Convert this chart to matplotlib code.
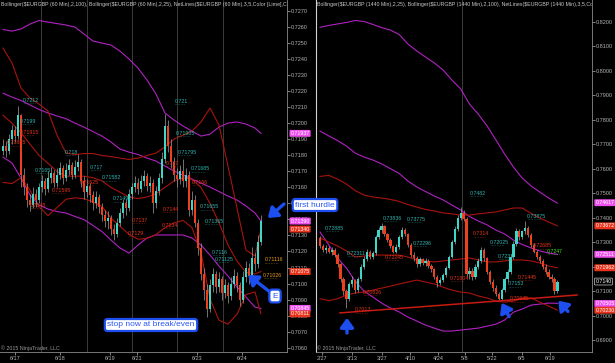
import numpy as np
import matplotlib
matplotlib.use("Agg")
import matplotlib.pyplot as plt

plt.rcParams['font.family'] = ['Liberation Sans', 'DejaVu Sans']

# ---- 60 min EURGBP (left panel) ----
h1_first_open = 0.7183
h1_close = [0.7186, 0.7183, 0.7190, 0.7196, 0.7192, 0.7205, 0.7168, 0.7160, 0.7152, 0.7149,
            0.7156, 0.7152, 0.7160, 0.7164, 0.7159, 0.7166, 0.7169, 0.7163, 0.7168, 0.7172,
            0.7166, 0.7171, 0.7174, 0.7168, 0.7173, 0.7176, 0.7164, 0.7157, 0.7161, 0.7155,
            0.7150, 0.7154, 0.7148, 0.7143, 0.7139, 0.7141, 0.7134, 0.7131, 0.7138, 0.7144,
            0.7150, 0.7147, 0.7156, 0.7160, 0.7163, 0.7159, 0.7164, 0.7167, 0.7161, 0.7163,
            0.7150, 0.7158, 0.7166, 0.7178, 0.7198, 0.7186, 0.7176, 0.7168, 0.7165, 0.7170,
            0.7164, 0.7168, 0.7146, 0.7152, 0.7138, 0.7122, 0.7106, 0.7096, 0.7084, 0.7099,
            0.7106, 0.7098, 0.7103, 0.7094, 0.7099, 0.7092, 0.7100, 0.7105, 0.7099, 0.7090,
            0.7104, 0.7110, 0.7105, 0.7116, 0.7112, 0.7126, 0.7139]
h1_high = [0.7190, 0.7189, 0.7193, 0.7199, 0.7198, 0.7211, 0.7206, 0.7172, 0.7163, 0.7156,
           0.7160, 0.7159, 0.7163, 0.7168, 0.7166, 0.7170, 0.7173, 0.7171, 0.7172, 0.7176,
           0.7174, 0.7175, 0.7178, 0.7176, 0.7177, 0.7181, 0.7178, 0.7167, 0.7165, 0.7163,
           0.7158, 0.7158, 0.7156, 0.7150, 0.7146, 0.7145, 0.7143, 0.7137, 0.7141, 0.7147,
           0.7153, 0.7153, 0.7159, 0.7163, 0.7167, 0.7166, 0.7168, 0.7171, 0.7169, 0.7167,
           0.7165, 0.7161, 0.7169, 0.7182, 0.7206, 0.7202, 0.7190, 0.7179, 0.7172, 0.7174,
           0.7178, 0.7172, 0.7170, 0.7158, 0.7155, 0.7140, 0.7125, 0.7110, 0.7100, 0.7103,
           0.7110, 0.7108, 0.7107, 0.7105, 0.7103, 0.7101, 0.7104, 0.7109, 0.7107, 0.7101,
           0.7108, 0.7114, 0.7113, 0.7123, 0.7119, 0.7130, 0.7143]
h1_low = [0.7180, 0.7179, 0.7181, 0.7187, 0.7188, 0.7190, 0.7160, 0.7155, 0.7148, 0.7145,
          0.7147, 0.7148, 0.7150, 0.7157, 0.7155, 0.7157, 0.7163, 0.7160, 0.7160, 0.7165,
          0.7162, 0.7164, 0.7168, 0.7165, 0.7166, 0.7170, 0.7160, 0.7153, 0.7154, 0.7151,
          0.7146, 0.7147, 0.7144, 0.7139, 0.7135, 0.7134, 0.7130, 0.7127, 0.7129, 0.7136,
          0.7141, 0.7143, 0.7145, 0.7153, 0.7157, 0.7156, 0.7157, 0.7161, 0.7158, 0.7157,
          0.7144, 0.7147, 0.7155, 0.7163, 0.7175, 0.7182, 0.7172, 0.7164, 0.7160, 0.7162,
          0.7160, 0.7160, 0.7142, 0.7143, 0.7135, 0.7118, 0.7102, 0.7090, 0.7079, 0.7082,
          0.7095, 0.7094, 0.7095, 0.7090, 0.7091, 0.7088, 0.7090, 0.7097, 0.7095, 0.7086,
          0.7088, 0.7101, 0.7100, 0.7103, 0.7108, 0.7110, 0.7124]

# bollinger values read every 3rd bar (last one at the final bar)
h1_band_bars = list(range(0, 85, 3)) + [86]
h1_bb100_up = [0.72585, 0.72575, 0.72588, 0.72619, 0.72641, 0.72631, 0.72622, 0.72613, 0.72600, 0.72557,
               0.72513, 0.72500, 0.72488, 0.72450, 0.72401, 0.72344, 0.72270, 0.72182, 0.72064, 0.72020,
               0.71983, 0.71951, 0.71920, 0.71932, 0.71976, 0.72001, 0.72008, 0.71995, 0.71970, 0.71937]
h1_bb100_mid = [0.72188, 0.72163, 0.72142, 0.72114, 0.72086, 0.72064, 0.72045, 0.72029, 0.72001, 0.71976,
                0.71948, 0.71920, 0.71883, 0.71839, 0.71820, 0.71805, 0.71783, 0.71764, 0.71733, 0.71702,
                0.71677, 0.71652, 0.71627, 0.71602, 0.71574, 0.71546, 0.71521, 0.71484, 0.71440, 0.71390]
h1_bb100_low = [0.71789, 0.71752, 0.71658, 0.71552, 0.71490, 0.71465, 0.71449, 0.71440, 0.71418, 0.71399,
                0.71362, 0.71324, 0.71271, 0.71222, 0.71190, 0.71240, 0.71284, 0.71303, 0.71303, 0.71303,
                0.71303, 0.71284, 0.71240, 0.71178, 0.71109, 0.71047, 0.70978, 0.70916, 0.70853, 0.70845]
h1_bb25_up = [0.72469, 0.72376, 0.72220, 0.72157, 0.72120, 0.72076, 0.71926, 0.71814, 0.71805, 0.71811,
              0.71811, 0.71799, 0.71792, 0.71783, 0.71774, 0.71783, 0.71799, 0.71814, 0.71852, 0.71901,
              0.71926, 0.71951, 0.72008, 0.72095, 0.71989, 0.71733, 0.71471, 0.71209, 0.71172, 0.71340]
h1_bb25_mid = [0.7205, 0.7200, 0.7194, 0.7187, 0.7180, 0.7175, 0.7170, 0.7167, 0.7167, 0.7167,
               0.7166, 0.7164, 0.7160, 0.7157, 0.7154, 0.7153, 0.7154, 0.7156, 0.7160, 0.7164,
               0.7166, 0.7165, 0.7160, 0.7150, 0.7138, 0.7124, 0.7114, 0.7107, 0.7106, 0.71075]
h1_bb25_low = [0.71631, 0.71624, 0.71660, 0.71583, 0.71480, 0.71424, 0.71474, 0.71526, 0.71535, 0.71529,
               0.71509, 0.71481, 0.71408, 0.71357, 0.71306, 0.71277, 0.71281, 0.71306, 0.71348, 0.71379,
               0.71394, 0.71349, 0.71192, 0.70905, 0.70771, 0.70747, 0.70809, 0.70931, 0.70948, 0.70811]

h1_day_bars = [4, 19, 35.7, 44.7, 64.7, 79.7]
h1_day_labels = ['6/17', '6/18', '6/19', '6/21', '6/23', '6/24']
h1_session_bars = [12.7, 28, 43, 58, 73.3]

h1_levels = [  # bar, price, text, colour
    (6.7, 0.72145, '0.7212', 'teal'), (5.7, 0.72014, '0.7199', 'teal'),
    (5.7, 0.71945, '0.71915', 'red'), (1.3, 0.71877, '0.71885', 'red'),
    (20.7, 0.71820, '0.718', 'teal'), (29.0, 0.71727, '0.717', 'teal'),
    (10.7, 0.71708, '0.7165', 'teal'), (9.0, 0.71490, '0.7148', 'red'),
    (16.3, 0.71583, '0.71595', 'red'), (25.7, 0.71630, '0.71625', 'red'),
    (33.0, 0.71660, '0.71582', 'teal'), (36.7, 0.71530, '0.71492', 'teal'),
    (43.0, 0.71396, '0.7137', 'red'), (41.7, 0.71312, '0.7129', 'red'),
    (57.3, 0.72136, '0.721', 'teal'), (57.7, 0.71939, '0.71905', 'teal'),
    (58.3, 0.71820, '0.71795', 'teal'), (62.7, 0.71715, '0.71685', 'teal'),
    (54.3, 0.71752, '0.717', 'red'), (63.0, 0.71630, '0.7166', 'red'),
    (53.3, 0.71465, '0.7144', 'red'), (53.0, 0.71365, '0.7134', 'red'),
    (65.7, 0.71478, '0.71655', 'teal'), (67.3, 0.71390, '0.71365', 'teal'),
    (69.7, 0.71195, '0.7116', 'teal'), (70.7, 0.71150, '0.71125', 'teal'),
    (87.3, 0.71147, '0.71116', 'orange'), (86.7, 0.71053, '0.71026', 'orange'),
]
h1_tags = [(0.71937, '0.71937', 'magenta'), (0.71390, '0.71390', 'magenta'),
           (0.71340, '0.71340', 'red'), (0.71075, '0.71075', 'red'),
           (0.70845, '0.70845', 'magenta'), (0.70811, '0.70811', 'red')]

# ---- daily EURGBP (right panel) ----
d1_first_open = 0.7318
d1_close = [0.7285, 0.7270, 0.7275, 0.7262, 0.7268, 0.7250, 0.7210, 0.7150, 0.7100, 0.7068,
            0.7130, 0.7145, 0.7105, 0.7150, 0.7200, 0.7232, 0.7260, 0.7240, 0.7258, 0.7320,
            0.7350, 0.7365, 0.7335, 0.7310, 0.7285, 0.7262, 0.7280, 0.7320, 0.7352, 0.7335,
            0.7290, 0.7250, 0.7238, 0.7210, 0.7230, 0.7215, 0.7225, 0.7205, 0.7190, 0.7160,
            0.7135, 0.7148, 0.7165, 0.7195, 0.7240, 0.7300, 0.7355, 0.7398, 0.7420, 0.7395,
            0.7170, 0.7185, 0.7160, 0.7200, 0.7222, 0.7268, 0.7235, 0.7180, 0.7140, 0.7115,
            0.7090, 0.7070, 0.7105, 0.7150, 0.7180, 0.7240, 0.7295, 0.7348, 0.7320, 0.7345,
            0.7360, 0.7330, 0.7290, 0.7262, 0.7240, 0.7225, 0.7200, 0.7180, 0.7160, 0.7150,
            0.7100, 0.7140]
d1_high = [0.7325, 0.7295, 0.7288, 0.7284, 0.7280, 0.7275, 0.7256, 0.7215, 0.7158, 0.7110,
           0.7140, 0.7162, 0.7150, 0.7160, 0.7212, 0.7245, 0.7272, 0.7268, 0.7266, 0.7328,
           0.7362, 0.7378, 0.7370, 0.7340, 0.7318, 0.7290, 0.7292, 0.7330, 0.7362, 0.7358,
           0.7340, 0.7296, 0.7260, 0.7245, 0.7242, 0.7238, 0.7235, 0.7232, 0.7212, 0.7196,
           0.7168, 0.7158, 0.7175, 0.7205, 0.7250, 0.7310, 0.7365, 0.7410, 0.7445, 0.7430,
           0.7402, 0.7198, 0.7195, 0.7210, 0.7235, 0.7280, 0.7275, 0.7242, 0.7188, 0.7150,
           0.7125, 0.7098, 0.7115, 0.7160, 0.7192, 0.7252, 0.7305, 0.7358, 0.7355, 0.7352,
           0.7385, 0.7368, 0.7338, 0.7298, 0.7270, 0.7248, 0.7232, 0.7210, 0.7192, 0.7170,
           0.7158, 0.7148]
d1_low = [0.7278, 0.7262, 0.7258, 0.7255, 0.7250, 0.7240, 0.7200, 0.7140, 0.7085, 0.7030,
          0.7060, 0.7118, 0.7095, 0.7098, 0.7142, 0.7190, 0.7225, 0.7230, 0.7232, 0.7250,
          0.7312, 0.7340, 0.7325, 0.7300, 0.7275, 0.7255, 0.7258, 0.7272, 0.7312, 0.7325,
          0.7282, 0.7240, 0.7225, 0.7200, 0.7205, 0.7208, 0.7205, 0.7196, 0.7180, 0.7150,
          0.7118, 0.7125, 0.7140, 0.7158, 0.7190, 0.7235, 0.7292, 0.7348, 0.7390, 0.7385,
          0.7160, 0.7150, 0.7145, 0.7152, 0.7190, 0.7215, 0.7225, 0.7170, 0.7130, 0.7100,
          0.7080, 0.7063, 0.7066, 0.7098, 0.7140, 0.7172, 0.7232, 0.7285, 0.7310, 0.7312,
          0.7335, 0.7322, 0.7280, 0.7255, 0.7232, 0.7215, 0.7190, 0.7172, 0.7150, 0.7140,
          0.7090, 0.7092]

d1_band_bars = list(range(0, 82, 3))
d1_bb100_up = [0.8177, 0.8185, 0.8191, 0.8197, 0.8205, 0.8201, 0.8189, 0.8176, 0.8166, 0.8148,
               0.8109, 0.8081, 0.8056, 0.8032, 0.8003, 0.7962, 0.7926, 0.7864, 0.7823, 0.7775,
               0.7718, 0.7660, 0.7607, 0.7562, 0.7530, 0.7505, 0.7481, 0.7460]
d1_bb100_mid = [0.7754, 0.7734, 0.7715, 0.7693, 0.7664, 0.7648, 0.7636, 0.7620, 0.7601, 0.7581,
                0.7550, 0.7526, 0.7507, 0.7489, 0.7473, 0.7452, 0.7432, 0.7405, 0.7387, 0.7371,
                0.7350, 0.7334, 0.7309, 0.7291, 0.7277, 0.7265, 0.7256, 0.7251]
d1_bb100_low = [0.7342, 0.7289, 0.7236, 0.7195, 0.7142, 0.7101, 0.7077, 0.7052, 0.7032, 0.7016,
                0.6995, 0.6979, 0.6962, 0.6950, 0.6938, 0.6938, 0.6942, 0.6946, 0.6950, 0.6958,
                0.6966, 0.6983, 0.7015, 0.7028, 0.7044, 0.7048, 0.7052, 0.7051]
d1_bb25_up = [0.7569, 0.7573, 0.7558, 0.7538, 0.7511, 0.7493, 0.7485, 0.7481, 0.7475, 0.7467,
              0.7454, 0.7444, 0.7434, 0.7428, 0.7420, 0.7416, 0.7411, 0.7411, 0.7416, 0.7420,
              0.7424, 0.7432, 0.7440, 0.7440, 0.7418, 0.7399, 0.7383, 0.7367]
d1_bb25_mid = [0.7318, 0.7301, 0.7285, 0.7265, 0.7240, 0.7244, 0.7248, 0.7248, 0.7248, 0.7248,
               0.7240, 0.7228, 0.7224, 0.7220, 0.7224, 0.7228, 0.7232, 0.7236, 0.7228, 0.7220,
               0.7220, 0.7224, 0.7228, 0.7228, 0.7224, 0.7216, 0.7203, 0.7196]
d1_bb25_low = [0.7070, 0.7062, 0.7070, 0.7085, 0.7093, 0.7097, 0.7105, 0.7113, 0.7121, 0.7130,
               0.7138, 0.7146, 0.7138, 0.7130, 0.7117, 0.7105, 0.7097, 0.7093, 0.7081, 0.7073,
               0.7060, 0.7056, 0.7060, 0.7073, 0.7073, 0.7056, 0.7040, 0.7023]

d1_trend_bars = [6.8, 87.7]
d1_trend_price = [0.7012, 0.7085]

d1_date_bars = [0.7, 10.9, 21.2, 30.7, 40.3, 49.5, 58.7, 68.9, 78.5]
d1_date_labels = ['2/27', '3/13', '3/27', '4/10', '4/24', '5/8', '5/22', '6/5', '6/19']
d1_session_bars = [48.5]

d1_levels = [
    (51.2, 0.7500, '0.7482', 'teal'), (21.5, 0.7399, '0.73836', 'teal'),
    (29.7, 0.7395, '0.73775', 'teal'), (70.6, 0.7407, '0.73875', 'teal'),
    (52.2, 0.7334, '0.7314', 'red'), (1.7, 0.7358, '0.72885', 'teal'),
    (58.0, 0.7301, '0.72025', 'teal'), (72.7, 0.7285, '0.72685', 'red'),
    (77.5, 0.7264, '0.7247', 'lime'), (60.8, 0.7244, '0.7231', 'teal'),
    (67.6, 0.7158, '0.71445', 'red'), (14.7, 0.7097, '0.70826', 'red'),
    (12.0, 0.7024, '0.7013', 'red'), (64.2, 0.7130, '0.7153', 'teal'),
    (31.7, 0.7296, '0.72296', 'teal'), (44.4, 0.7153, '0.71804', 'red'),
    (9.2, 0.7255, '0.72311', 'teal'), (64.8, 0.7069, '0.70645', 'red'),
    (22.2, 0.7240, '0.72245', 'red'),
]
d1_tags = [(0.74617, '0.74617', 'magenta'), (0.73672, '0.73672', 'red'),
           (0.72511, '0.72511', 'magenta'), (0.71962, '0.71962', 'red'),
           (0.7140, '0.7140', 'black'), (0.70505, '0.70505', 'magenta'),
           (0.70230, '0.70230', 'red')]

COL = {'teal': '#2fb3b0', 'red': '#e8341c', 'orange': '#e89a1c', 'lime': '#3ee81c',
       'magenta': '#f050f0', 'black': 'black'}
UP = '#3fd6c8'
DOWN = '#ee3f1f'
WICK = '#a0a0a0'
PURPLE = '#b022c2'
DARKRED = '#a8140e'
BLUE = '#1d4ff0'


def draw_candles(ax, first_open, close, high, low, width):
    c = np.array(close)
    o = np.array([first_open] + close[:-1])
    x = np.arange(len(c))
    ax.vlines(x, low, high, color=WICK, lw=0.5, zorder=3)
    up = c >= o
    body = np.maximum(np.abs(c - o), 0.00002)
    ax.bar(x[up], body[up], width, bottom=np.minimum(o, c)[up], color=UP, lw=0, zorder=4)
    ax.bar(x[~up], body[~up], width, bottom=np.minimum(o, c)[~up], color=DOWN, lw=0, zorder=4)


def style_axis(ax, ylim, step, title):
    ax.set_facecolor('black')
    ax.set_ylim(*ylim)
    ax.yaxis.tick_right()
    ticks = np.arange(np.ceil(ylim[0] / step) * step, ylim[1], step)
    ax.set_yticks(ticks)
    ax.set_yticklabels(['%.4f' % t for t in ticks])
    ax.tick_params(axis='both', colors='#b4b4b4', labelsize=4, length=2, width=0.5, pad=1)
    for s in ('top', 'left'):
        ax.spines[s].set_visible(False)
    for s in ('right', 'bottom'):
        ax.spines[s].set_color('#8a8a8a')
        ax.spines[s].set_linewidth(0.6)
    ax.text(0.004, 0.995, title, transform=ax.transAxes, fontsize=3.8, color='#c8c8c8',
            va='top', ha='left', clip_on=True)
    ax.text(0.004, 0.004, '\u00a9 2015 NinjaTrader, LLC', transform=ax.transAxes, fontsize=3.8,
            color='#9a9a9a', va='bottom', ha='left')


def draw_levels(ax, levels):
    for bx, p, txt, c in levels:
        ax.annotate(txt, (bx, p), fontsize=3.8, color=COL[c], va='center', ha='left', zorder=6)
        ax.annotate('\u00b7' * (len(txt) + 2), (bx, p), xytext=(0, -2.6), textcoords='offset points',
                    fontsize=3.5, color=COL[c], va='center', ha='left', zorder=6)


def draw_tags(ax, tags):
    for p, txt, c in tags:
        ec = '#c8c8c8' if c == 'black' else 'none'
        ax.text(1.012, p, txt, transform=ax.get_yaxis_transform(), fontsize=3.8, color='white',
                va='center', ha='left', zorder=10, clip_on=False,
                bbox=dict(boxstyle='round,pad=0.18', fc=COL[c], ec=ec, lw=0.5))


fig = plt.figure(figsize=(6.15, 3.63), dpi=100, facecolor='black')
W, H = 615.0, 363.0


def fpx(x, y):
    return (x / W, 1 - y / H)


axL = fig.add_axes([0, 11 / H, 287 / W, 352 / H])
axR = fig.add_axes([316 / W, 11 / H, 276 / W, 352 / H])

# left panel
style_axis(axL, (0.70573, 0.72769), 0.001,
           'Bollinger($EURGBP (60 Min),2,100), Bollinger($EURGBP (60 Min),2,25), '
           'NetLines($EURGBP (60 Min),3,5,Color [Lime],Col')
axL.set_xlim(-1, 94.67)
for b in h1_session_bars:
    axL.axvline(b, color='#3a3a3a', lw=0.7, zorder=1)
axL.plot(h1_band_bars, h1_bb100_up, color=PURPLE, lw=0.8, zorder=2)
axL.plot(h1_band_bars, h1_bb100_mid, color=PURPLE, lw=0.8, zorder=2)
axL.plot(h1_band_bars, h1_bb100_low, color=PURPLE, lw=0.8, zorder=2)
axL.plot(h1_band_bars, h1_bb25_up, color=DARKRED, lw=0.8, zorder=2)
axL.plot(h1_band_bars, h1_bb25_mid, color=DARKRED, lw=0.8, zorder=2)
axL.plot(h1_band_bars, h1_bb25_low, color=DARKRED, lw=0.8, zorder=2)
draw_candles(axL, h1_first_open, h1_close, h1_high, h1_low, 0.6)
draw_levels(axL, h1_levels)
draw_tags(axL, h1_tags)
axL.set_xticks(h1_day_bars)
axL.set_xticklabels(h1_day_labels)

# right panel
style_axis(axR, (0.68525, 0.82887), 0.01,
           'Bollinger($EURGBP (1440 Min),2,25), Bollinger($EURGBP (1440 Min),2,100), '
           'NetLines($EURGBP (1440 Min),3,5,Col')
axR.spines['left'].set_visible(True)
axR.spines['left'].set_color('#d0d0d0')
axR.spines['left'].set_linewidth(0.8)
axR.set_xlim(-1.37, 92.8)
for b in d1_session_bars:
    axR.axvline(b, color='#3a3a3a', lw=0.7, zorder=1)
axR.plot(d1_band_bars, d1_bb100_up, color=PURPLE, lw=0.8, zorder=2)
axR.plot(d1_band_bars, d1_bb100_mid, color=PURPLE, lw=0.8, zorder=2)
axR.plot(d1_band_bars, d1_bb100_low, color=PURPLE, lw=0.8, zorder=2)
axR.plot(d1_band_bars, d1_bb25_up, color=DARKRED, lw=0.8, zorder=2)
axR.plot(d1_band_bars, d1_bb25_mid, color=DARKRED, lw=0.8, zorder=2)
axR.plot(d1_band_bars, d1_bb25_low, color=DARKRED, lw=0.8, zorder=2)
axR.plot(d1_trend_bars, d1_trend_price, color='#c81a10', lw=1.1, zorder=5)
draw_candles(axR, d1_first_open, d1_close, d1_high, d1_low, 0.8)
draw_levels(axR, d1_levels)
draw_tags(axR, d1_tags)
axR.set_xticks(d1_date_bars)
axR.set_xticklabels(d1_date_labels)

# hand-drawn notes
note = dict(fontsize=6, color='#2a55f5', ha='center', va='center', zorder=20)
box = dict(boxstyle='round,pad=0.3', fc='white', ec=BLUE, lw=1.6)
arrow = dict(arrowstyle='-|>,head_width=0.4,head_length=0.55', color=BLUE, lw=2.4, shrinkA=0, shrinkB=0)

fig.text(*fpx(315, 205), 'first hurdle', bbox=box, **note)
fig.text(*fpx(151, 325), 'stop now at break/even', bbox=box, **note)
fig.text(*fpx(275, 296), 'E', bbox=dict(box, boxstyle='round,pad=0.35'), **note)

axL.annotate('', xy=(88.3, 0.71409), xycoords='data', xytext=fpx(284, 204),
             textcoords='figure fraction', arrowprops=arrow, zorder=20)
axL.annotate('', xy=(81.7, 0.71053), xycoords='data', xytext=fpx(270, 292),
             textcoords='figure fraction', arrowprops=arrow, zorder=20)
axR.annotate('', xy=(9.2, 0.6992), xytext=(9.2, 0.6930), arrowprops=arrow, zorder=20)
axR.annotate('', xy=(62.0, 0.7053), xytext=(64.5, 0.6997), arrowprops=arrow, zorder=20)
axR.annotate('', xy=(81.3, 0.7062), xytext=(84.6, 0.7018), arrowprops=arrow, zorder=20)

fig.savefig('out.png', dpi=100, facecolor='black')
